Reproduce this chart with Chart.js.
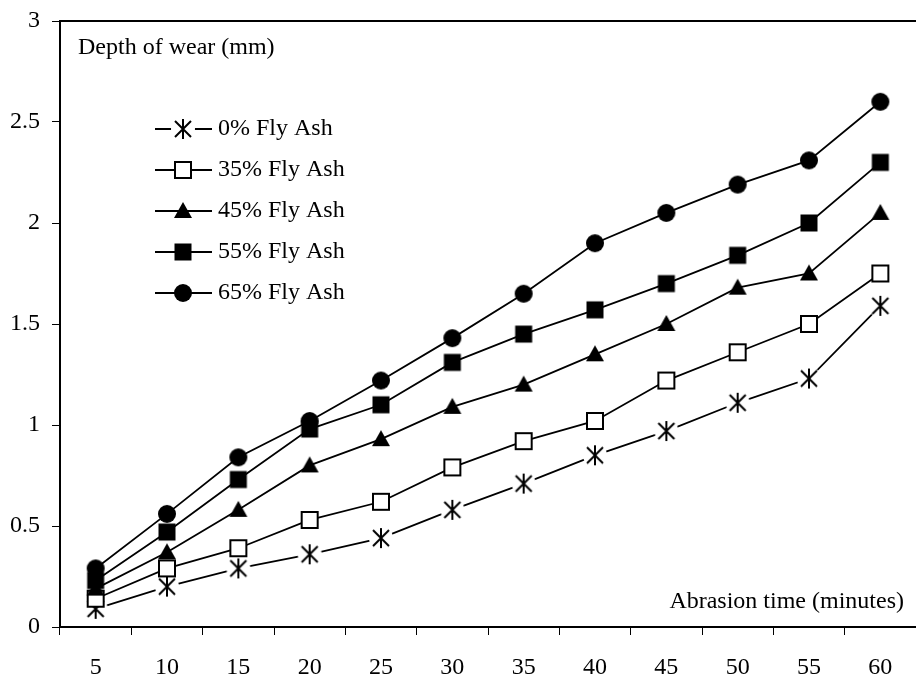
<!DOCTYPE html>
<html lang="en">
  <head>
    <meta charset="UTF-8" />
    <title>Depth of wear vs abrasion time</title>
    <script src="https://cdn.jsdelivr.net/npm/chart.js"></script>
    <style>
      body {
        margin: 0;
        background-color: #ffffff;
      }
    </style>
  </head>
  <body>
    <canvas id="wearChart" width="916" height="680"></canvas>
    <script>
      // Abrasion time categories (minutes)
      const times = [5, 10, 15, 20, 25, 30, 35, 40, 45, 50, 55, 60];

      // Depth of wear (mm) per fly ash content
      const ash0 = [0.09, 0.2, 0.29, 0.36, 0.44, 0.58, 0.71, 0.85, 0.97, 1.11, 1.23, 1.59];
      const ash35 = [0.14, 0.29, 0.39, 0.53, 0.62, 0.79, 0.92, 1.02, 1.22, 1.36, 1.5, 1.75];
      const ash45 = [0.19, 0.37, 0.58, 0.8, 0.93, 1.09, 1.2, 1.35, 1.5, 1.68, 1.75, 2.05];
      const ash55 = [0.23, 0.47, 0.73, 0.98, 1.1, 1.31, 1.45, 1.57, 1.7, 1.84, 2.0, 2.3];
      const ash65 = [0.29, 0.56, 0.84, 1.02, 1.22, 1.43, 1.65, 1.9, 2.05, 2.19, 2.31, 2.6];

      const seriesNames = ["0% Fly Ash", "35% Fly Ash", "45% Fly Ash", "55% Fly Ash", "65% Fly Ash"];
      const yTicks = [0, 0.5, 1, 1.5, 2, 2.5, 3];

      const FONT = "'Liberation Serif', 'Times New Roman', serif";

      // build the marker images
      function makeMarker(kind) {
        const c = document.createElement("canvas");
        c.width = 26;
        c.height = 26;
        const g = c.getContext("2d");
        const m = 13;
        g.strokeStyle = "#000";
        g.fillStyle = "#000";
        g.lineWidth = 2;
        if (kind === "asterisk") {
          g.fillStyle = "#fff";
          g.beginPath();
          g.arc(m, m, 12, 0, Math.PI * 2);
          g.fill();
          g.beginPath();
          g.moveTo(m, m - 10);
          g.lineTo(m, m + 10);
          g.moveTo(m - 8, m - 8);
          g.lineTo(m + 8, m + 8);
          g.moveTo(m + 8, m - 8);
          g.lineTo(m - 8, m + 8);
          g.stroke();
        } else if (kind === "open") {
          g.fillStyle = "#fff";
          g.fillRect(m - 8, m - 8, 16, 16);
          g.strokeRect(m - 8, m - 8, 16, 16);
        } else if (kind === "triangle") {
          g.beginPath();
          g.moveTo(m, m - 9);
          g.lineTo(m + 9, m + 7);
          g.lineTo(m - 9, m + 7);
          g.closePath();
          g.fill();
        } else if (kind === "square") {
          g.fillRect(m - 8.5, m - 8.5, 17, 17);
        } else {
          g.beginPath();
          g.arc(m, m, 9, 0, Math.PI * 2);
          g.fill();
        }
        return c;
      }

      const markers = ["asterisk", "open", "triangle", "square", "circle"].map(makeMarker);
      const values = [ash0, ash35, ash45, ash55, ash65];

      const datasets = values.map((vals, i) => ({
        label: seriesNames[i],
        data: vals,
        borderColor: "#000",
        borderWidth: 1.8,
        pointStyle: markers[i],
        pointRadius: 9,
        tension: 0,
        fill: false,
        clip: false,
        order: 5 - i,
      }));

      // legend, axis captions and top frame line
      const decorations = {
        id: "decorations",
        afterDraw(chart) {
          const ctx = chart.ctx;
          const area = chart.chartArea;
          ctx.save();
          ctx.strokeStyle = "#000";
          ctx.lineWidth = 2;
          ctx.beginPath();
          ctx.moveTo(area.left, area.top);
          ctx.lineTo(area.right, area.top);
          ctx.stroke();

          ctx.fillStyle = "#000";
          ctx.font = "24px " + FONT;
          ctx.textBaseline = "middle";
          ctx.textAlign = "left";
          ctx.fillText("Depth of wear (mm)", area.left + 18, area.top + 27);
          ctx.textAlign = "right";
          ctx.fillText("Abrasion time (minutes)", area.right - 12, area.bottom - 25);

          ctx.textAlign = "left";
          chart.data.datasets.forEach((ds, i) => {
            const y = 129 + i * 41;
            ctx.lineWidth = 1.8;
            ctx.beginPath();
            ctx.moveTo(155, y);
            ctx.lineTo(212, y);
            ctx.stroke();
            ctx.drawImage(ds.pointStyle, 183 - 13, y - 13);
            ctx.fillText(ds.label, 218, y);
          });
          ctx.restore();
        },
      };

      Chart.defaults.color = "#000";
      Chart.defaults.font.family = FONT;
      Chart.defaults.font.size = 24;

      new Chart(document.getElementById("wearChart").getContext("2d"), {
        type: "line",
        data: {
          labels: times,
          datasets: datasets,
        },
        options: {
          responsive: false,
          animation: false,
          layout: {
            autoPadding: false,
            padding: { top: 21, right: 0, left: 0, bottom: 0 },
          },
          plugins: {
            legend: { display: false },
            tooltip: { enabled: false },
          },
          scales: {
            x: {
              type: "category",
              offset: true,
              afterFit: (scale) => {
                scale.height = 53;
                scale.paddingLeft = 0;
                scale.paddingRight = 0;
              },
              border: { color: "#000", width: 2 },
              grid: {
                offset: true,
                drawOnChartArea: false,
                drawTicks: true,
                tickLength: 8,
                color: "#000",
                lineWidth: 1,
              },
              ticks: {
                padding: 18,
                maxRotation: 0,
                autoSkip: false,
              },
            },
            y: {
              min: 0,
              max: 3,
              afterFit: (scale) => {
                scale.width = 60;
                scale.paddingTop = 0;
                scale.paddingBottom = 0;
              },
              afterBuildTicks: (scale) => {
                scale.ticks = yTicks.map((v) => ({ value: v }));
              },
              border: { color: "#000", width: 2 },
              grid: {
                drawOnChartArea: false,
                drawTicks: true,
                tickLength: 8,
                color: "#000",
                lineWidth: 1,
              },
              ticks: {
                padding: 12,
                callback: (value) => String(value),
              },
            },
          },
        },
        plugins: [decorations],
      });
    </script>
  </body>
</html>
